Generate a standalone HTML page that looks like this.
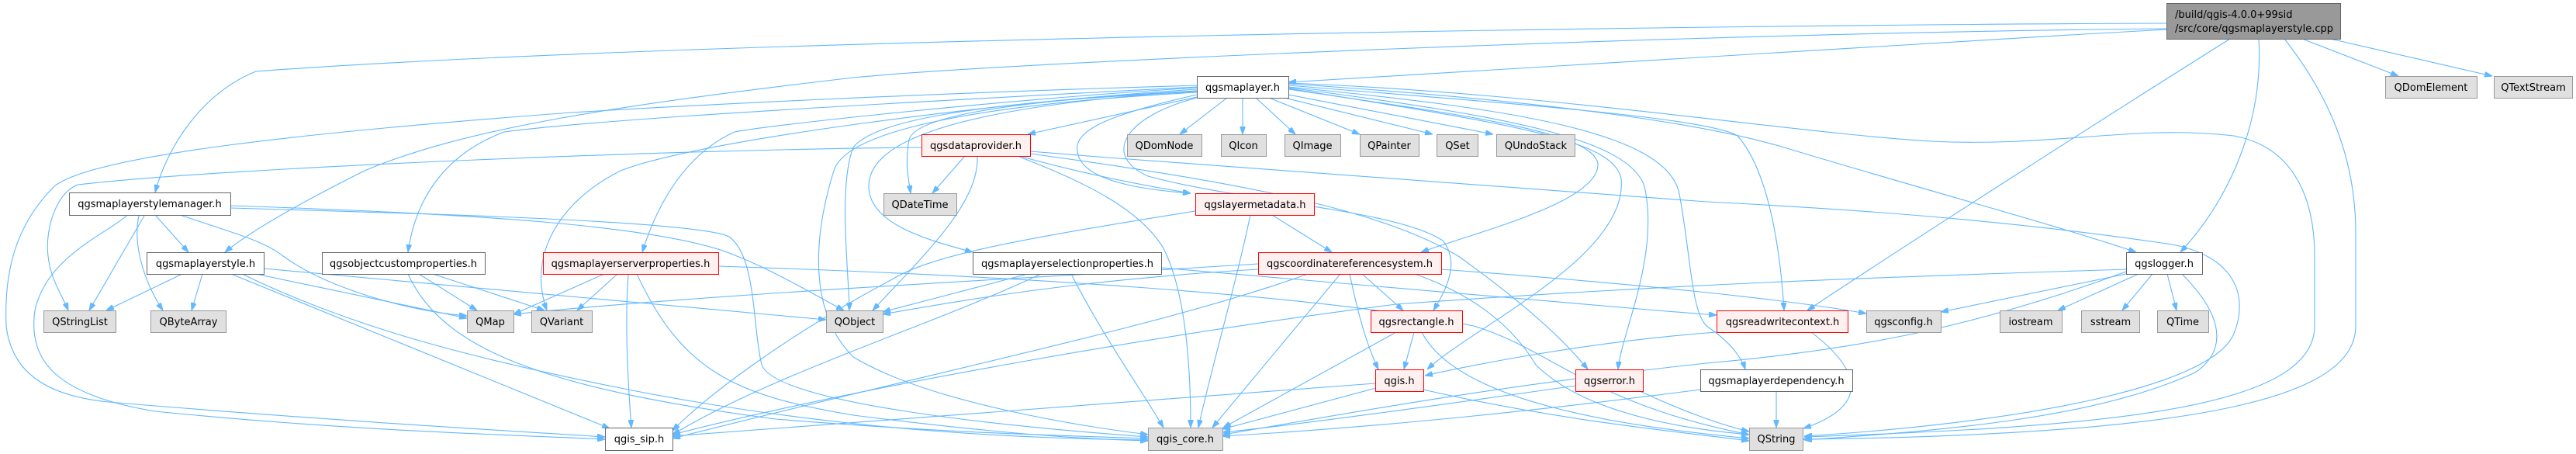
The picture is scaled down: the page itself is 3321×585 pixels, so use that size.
<!DOCTYPE html>
<html>
<head>
<meta charset="utf-8">
<style>
html,body{margin:0;padding:0;background:#fff;}
svg{display:block;}
text{font-family:"DejaVu Sans","Liberation Sans",sans-serif;font-size:13px;fill:#000;}
.e{fill:none;stroke:#63b8ff;stroke-width:1.1;marker-end:url(#ah);}
.w{fill:#fff;stroke:#666;stroke-width:1;}
.g{fill:#e0e0e0;stroke:#999;stroke-width:1;}
.r{fill:#fff0f0;stroke:#ff0000;stroke-width:1;}
.m{fill:#999;stroke:#666;stroke-width:1;}
</style>
</head>
<body>
<svg width="3321" height="585" viewBox="0 0 3321 585" xmlns="http://www.w3.org/2000/svg">
<defs>
<marker id="ah" viewBox="0 0 10 7" refX="10" refY="3.5" markerWidth="10" markerHeight="7" markerUnits="userSpaceOnUse" orient="auto">
<path d="M0,0 L10,3.5 L0,7 z" fill="#63b8ff" stroke="#63b8ff"/>
</marker>
</defs>

<!-- edges from cpp -->
<path class="e" d="M2793,38 C2400,60 2000,85 1661,106"/>
<path class="e" d="M2793,30 C2200,32 900,50 330,92 C260,120 215,190 200,248"/>
<path class="e" d="M2793,37 C2200,42 1300,80 1100,100 C800,135 600,165 470,220 C380,265 320,300 290,325"/>
<path class="e" d="M2875,50 C2700,160 2450,320 2330,400"/>
<path class="e" d="M2912,50 C2918,150 2880,250 2811,325"/>
<path class="e" d="M2945,50 C3000,120 3037,200 3037,300 L3037,420 C3037,510 2850,560 2324,566"/>
<path class="e" d="M2968,50 L3092,98"/>
<path class="e" d="M3004,50 L3213,98"/>

<!-- qgsmaplayer.h -->
<path class="e" d="M1543,125 L1325,173"/>
<path class="e" d="M1582,126 L1521,173"/>
<path class="e" d="M1602,126 L1602,173"/>
<path class="e" d="M1619,126 L1670,173"/>
<path class="e" d="M1636,126 L1753,173"/>
<path class="e" d="M1656,126 L1847,173"/>
<path class="e" d="M1661,122 L1925,173"/>
<path class="e" d="M1543,117 C1300,130 1180,150 1172,180 C1166,210 1172,235 1174,249"/>
<path class="e" d="M1543,122 C1420,150 1380,170 1390,200 C1400,235 1480,245 1535,249"/>
<path class="e" d="M1543,126 C1450,150 1420,200 1480,227 C1600,260 1800,270 1860,310 C1885,340 1860,380 1848,400"/>
<path class="e" d="M1543,117 C1200,140 1120,190 1120,240 C1120,290 1200,310 1254,325"/>
<path class="e" d="M1661,115 C1900,150 2050,170 2060,210 C2065,260 1900,300 1832,325"/>
<path class="e" d="M1661,114 C1950,160 2080,180 2090,230 C2100,330 1900,420 1840,476"/>
<path class="e" d="M1661,113 C1950,150 2100,180 2120,240 C2140,330 2090,430 2086,476"/>
<path class="e" d="M1661,112 C1950,140 2150,170 2165,250 C2180,330 2180,400 2200,420 C2230,440 2245,460 2250,476"/>
<path class="e" d="M1661,110 C1900,130 2200,150 2240,175 C2280,220 2295,320 2300,400"/>
<path class="e" d="M1661,108 C2000,130 2200,160 2300,190 C2500,250 2650,290 2754,325"/>
<path class="e" d="M1661,107 C2000,120 2300,170 2488,182 C2650,190 2750,160 2880,175 C2960,190 2984,260 2984,330 L2984,420 C2984,530 2700,550 2326,563"/>
<path class="e" d="M1543,110 C1200,120 900,135 737,145 C400,170 120,200 70,240 C20,290 5,350 8,420 C15,480 60,510 140,518 C400,540 650,555 780,563"/>
<path class="e" d="M1543,112 C1300,125 800,150 650,170 C570,200 535,260 526,325"/>
<path class="e" d="M1543,113 C1300,128 1000,160 947,170 C880,200 845,270 828,325"/>
<path class="e" d="M1543,115 C1300,130 900,180 800,220 C720,260 680,330 705,400"/>
<path class="e" d="M1543,118 C1300,130 1130,150 1100,190 C1080,240 1095,360 1095,400"/>
<path class="e" d="M1543,119 C1250,135 1090,170 1075,220 C1050,300 1040,400 1100,460 C1200,520 1400,550 1480,560"/>

<!-- qgsdataprovider.h -->
<path class="e" d="M1244,201 L1202,249"/>
<path class="e" d="M1188,190 C900,192 300,215 100,238 C70,250 58,300 62,330 C65,360 80,380 88,400"/>
<path class="e" d="M1314,201 C1400,225 1480,240 1535,249"/>
<path class="e" d="M1260,201 C1262,260 1200,320 1125,400"/>
<path class="e" d="M1314,202 C1400,235 1470,270 1500,320 C1530,380 1535,480 1535,551"/>
<path class="e" d="M1328,195 C1700,225 2100,255 2200,260 C2400,270 2600,285 2800,315 C2880,330 2900,380 2880,430 C2850,500 2600,545 2326,562"/>
<path class="e" d="M1328,198 C1600,235 1780,270 1880,330 C1950,380 2010,430 2047,476"/>

<!-- qgslayermetadata.h -->
<path class="e" d="M1541,272 C1300,310 1200,330 1150,360 C1000,440 900,520 867,555"/>
<path class="e" d="M1612,277 C1590,380 1560,480 1545,551"/>
<path class="e" d="M1640,277 L1717,325"/>

<!-- qgsmaplayerstylemanager.h -->
<path class="e" d="M200,277 L243,325"/>
<path class="e" d="M186,278 L115,400"/>
<path class="e" d="M179,278 C170,320 190,370 210,400"/>
<path class="e" d="M232,277 C300,300 340,310 365,330 C420,370 520,400 602,407"/>
<path class="e" d="M163,278 C140,300 60,330 45,400 C35,470 80,510 200,530 C450,555 650,560 780,566"/>
<path class="e" d="M297,265 C600,275 860,290 950,330 C1000,350 1050,380 1088,400"/>
<path class="e" d="M297,268 C550,275 900,285 940,305 C975,330 970,420 982,470 C1000,520 1300,550 1480,563"/>

<!-- qgsmaplayerstyle.h -->
<path class="e" d="M235,353 L137,400"/>
<path class="e" d="M261,353 L247,400"/>
<path class="e" d="M330,353 L602,410"/>
<path class="e" d="M340,346 L1065,412"/>
<path class="e" d="M298,353 L786,552"/>
<path class="e" d="M312,353 C450,420 600,460 800,500 C1100,560 1350,565 1480,567"/>

<!-- qgsobjectcustomproperties.h -->
<path class="e" d="M540,353 L615,400"/>
<path class="e" d="M558,353 L702,400"/>
<path class="e" d="M526,353 C570,450 700,500 1000,540 C1250,560 1400,562 1480,565"/>

<!-- qgsmaplayerserverproperties.h -->
<path class="e" d="M779,353 L662,405"/>
<path class="e" d="M796,353 L744,400"/>
<path class="e" d="M810,353 C805,420 810,500 814,551"/>
<path class="e" d="M821,353 C880,480 950,510 1100,535 C1300,560 1400,566 1480,568"/>
<path class="e" d="M926,343 C1300,355 1700,380 1900,420 C2000,450 2050,520 2255,560"/>

<!-- qgsmaplayerselectionproperties.h -->
<path class="e" d="M1325,353 L1138,402"/>
<path class="e" d="M1342,353 C1200,420 1000,480 867,560"/>
<path class="e" d="M1381,353 C1420,430 1470,500 1500,551"/>
<path class="e" d="M1497,345 C1800,370 2000,390 2213,406"/>

<!-- qgscoordinatereferencesystem.h -->
<path class="e" d="M1622,347 C1400,360 1250,385 1138,405"/>
<path class="e" d="M1622,340 C1300,360 900,380 662,405"/>
<path class="e" d="M1686,353 C1500,420 1200,480 867,565"/>
<path class="e" d="M1728,353 L1563,551"/>
<path class="e" d="M1756,353 L1809,400"/>
<path class="e" d="M1740,353 C1750,400 1760,440 1777,476"/>
<path class="e" d="M1824,353 C1900,380 1950,420 1980,470 C2050,540 2200,555 2255,560"/>
<path class="e" d="M1858,347 C2100,365 2300,385 2406,404"/>

<!-- qgsrectangle.h -->
<path class="e" d="M1823,428 L1810,476"/>
<path class="e" d="M1800,428 L1577,551"/>
<path class="e" d="M1833,428 C1880,520 2100,550 2255,565"/>

<!-- qgis.h -->
<path class="e" d="M1773,494 C1400,520 1100,545 867,562"/>
<path class="e" d="M1774,500 L1576,553"/>
<path class="e" d="M1835,502 C2000,540 2150,555 2255,568"/>

<!-- qgserror.h -->
<path class="e" d="M2031,497 C1800,530 1650,550 1576,557"/>
<path class="e" d="M2114,504 C2170,530 2220,548 2255,556"/>

<!-- qgsmaplayerdependency.h -->
<path class="e" d="M2290,504 L2290,551"/>
<path class="e" d="M2192,502 C1900,540 1700,555 1576,562"/>

<!-- qgsreadwritecontext.h -->
<path class="e" d="M2335,428 C2390,470 2420,520 2325,552"/>
<path class="e" d="M2213,428 C2050,440 1900,470 1837,484"/>

<!-- qgslogger.h -->
<path class="e" d="M2741,353 L2502,402"/>
<path class="e" d="M2757,353 L2653,400"/>
<path class="e" d="M2775,353 L2736,400"/>
<path class="e" d="M2794,353 L2806,400"/>
<path class="e" d="M2813,353 C2880,420 2860,460 2830,480 C2700,540 2500,555 2326,567"/>
<path class="e" d="M2741,350 C2550,420 2400,450 2200,468 C1900,500 1700,540 1576,560"/>
<path class="e" d="M2741,347 C2500,355 2200,363 1800,392 C1500,430 1100,500 867,560"/>

<!-- nodes -->
<rect class="m" x="2793.5" y="4.5" width="224" height="46"/>
<text x="2804" y="23">/build/qgis-4.0.0+99sid</text>
<text x="2804" y="41">/src/core/qgsmaplayerstyle.cpp</text>

<rect class="w" x="1543.5" y="98.5" width="118" height="28"/><text x="1602" y="117" text-anchor="middle">qgsmaplayer.h</text>
<rect class="g" x="3075.5" y="98.5" width="118" height="28"/><text x="3134" y="117" text-anchor="middle">QDomElement</text>
<rect class="g" x="3215.5" y="98.5" width="101" height="28"/><text x="3266" y="117" text-anchor="middle">QTextStream</text>

<rect class="r" x="1188.5" y="173.5" width="140" height="28"/><text x="1258" y="192" text-anchor="middle">qgsdataprovider.h</text>
<rect class="g" x="1453.5" y="173.5" width="96" height="28"/><text x="1501" y="192" text-anchor="middle">QDomNode</text>
<rect class="g" x="1574.5" y="173.5" width="58" height="28"/><text x="1603" y="192" text-anchor="middle">QIcon</text>
<rect class="g" x="1656.5" y="173.5" width="72" height="28"/><text x="1692" y="192" text-anchor="middle">QImage</text>
<rect class="g" x="1753.5" y="173.5" width="76" height="28"/><text x="1791" y="192" text-anchor="middle">QPainter</text>
<rect class="g" x="1852.5" y="173.5" width="53" height="28"/><text x="1879" y="192" text-anchor="middle">QSet</text>
<rect class="g" x="1929.5" y="173.5" width="101" height="28"/><text x="1980" y="192" text-anchor="middle">QUndoStack</text>

<rect class="w" x="89.5" y="248.5" width="208" height="29"/><text x="193" y="267" text-anchor="middle">qgsmaplayerstylemanager.h</text>
<rect class="g" x="1139.5" y="249.5" width="94" height="28"/><text x="1186" y="268" text-anchor="middle">QDateTime</text>
<rect class="r" x="1541.5" y="249.5" width="153" height="28"/><text x="1618" y="268" text-anchor="middle">qgslayermetadata.h</text>

<rect class="w" x="189.5" y="325.5" width="151" height="28"/><text x="265" y="344" text-anchor="middle">qgsmaplayerstyle.h</text>
<rect class="w" x="415.5" y="325.5" width="210" height="28"/><text x="520" y="344" text-anchor="middle">qgsobjectcustomproperties.h</text>
<rect class="r" x="700.5" y="325.5" width="226" height="28"/><text x="813" y="344" text-anchor="middle">qgsmaplayerserverproperties.h</text>
<rect class="w" x="1254.5" y="325.5" width="243" height="28"/><text x="1376" y="344" text-anchor="middle">qgsmaplayerselectionproperties.h</text>
<rect class="r" x="1622.5" y="325.5" width="236" height="28"/><text x="1740" y="344" text-anchor="middle">qgscoordinatereferencesystem.h</text>
<rect class="w" x="2741.5" y="325.5" width="98" height="28"/><text x="2790" y="344" text-anchor="middle">qgslogger.h</text>

<rect class="g" x="56.5" y="400.5" width="93" height="28"/><text x="103" y="419" text-anchor="middle">QStringList</text>
<rect class="g" x="194.5" y="400.5" width="97" height="28"/><text x="243" y="419" text-anchor="middle">QByteArray</text>
<rect class="g" x="602.5" y="400.5" width="60" height="28"/><text x="632" y="419" text-anchor="middle">QMap</text>
<rect class="g" x="685.5" y="400.5" width="78" height="28"/><text x="724" y="419" text-anchor="middle">QVariant</text>
<rect class="g" x="1065.5" y="400.5" width="73" height="28"/><text x="1102" y="419" text-anchor="middle">QObject</text>
<rect class="r" x="1767.5" y="400.5" width="118" height="28"/><text x="1826" y="419" text-anchor="middle">qgsrectangle.h</text>
<rect class="r" x="2213.5" y="400.5" width="169" height="28"/><text x="2298" y="419" text-anchor="middle">qgsreadwritecontext.h</text>
<rect class="g" x="2406.5" y="400.5" width="96" height="28"/><text x="2454" y="419" text-anchor="middle">qgsconfig.h</text>
<rect class="g" x="2578.5" y="400.5" width="80" height="28"/><text x="2618" y="419" text-anchor="middle">iostream</text>
<rect class="g" x="2683.5" y="400.5" width="75" height="28"/><text x="2721" y="419" text-anchor="middle">sstream</text>
<rect class="g" x="2781.5" y="400.5" width="66" height="28"/><text x="2814" y="419" text-anchor="middle">QTime</text>

<rect class="r" x="1773.5" y="476.5" width="62" height="28"/><text x="1804" y="495" text-anchor="middle">qgis.h</text>
<rect class="r" x="2031.5" y="476.5" width="87" height="28"/><text x="2075" y="495" text-anchor="middle">qgserror.h</text>
<rect class="w" x="2192.5" y="476.5" width="196" height="28"/><text x="2290" y="495" text-anchor="middle">qgsmaplayerdependency.h</text>

<rect class="w" x="780.5" y="551.5" width="87" height="29"/><text x="824" y="570" text-anchor="middle">qgis_sip.h</text>
<rect class="g" x="1480.5" y="551.5" width="96" height="29"/><text x="1528" y="570" text-anchor="middle">qgis_core.h</text>
<rect class="g" x="2255.5" y="551.5" width="69" height="29"/><text x="2290" y="570" text-anchor="middle">QString</text>
</svg>
</body>
</html>
